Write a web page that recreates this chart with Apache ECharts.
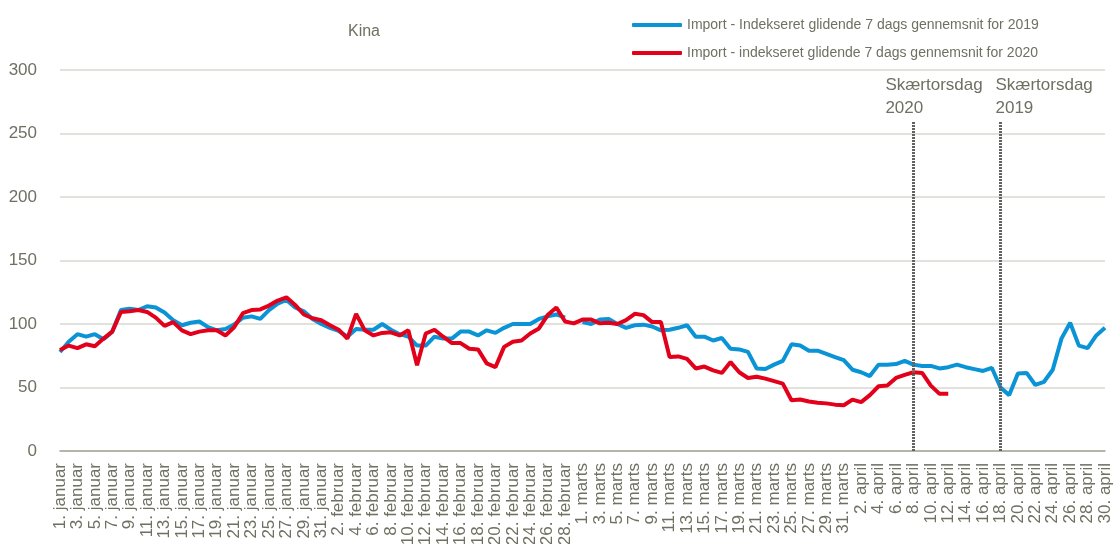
<!DOCTYPE html>
<html>
<head>
<meta charset="utf-8">
<title>Kina</title>
<script src="https://cdn.jsdelivr.net/npm/echarts@6/dist/echarts.min.js"></script>
<style>
      html,
      body {
            margin: 0;
            padding: 0;
            background: #ffffff;
      }
      #kinaChart {
            width: 1114px;
            height: 544px;
      }
</style>
</head>
<body>
<div id="kinaChart"></div>
<script>
// maaneder og antal dage (2020 er skudaar, derfor 29. februar)
const monthNames = ["januar", "februar", "marts", "april"];
const monthDays = [31, 29, 31, 30];

// 2019 - 29. februar findes ikke, derfor null
const import2019 = [
      78, 86, 92, 90, 92, 88, 94, 111, 112, 111,
      114, 113, 109, 103, 99, 101, 102, 97.5, 95, 96,
      99.5, 105, 106, 104, 111, 116, 119, 113, 110, 104,
      100, 97, 94.5, 90, 96, 95.5, 95.5, 100, 95.5, 92,
      90, 83, 83, 90, 88.5, 88.5, 94, 94, 91, 95,
      93, 97, 100, 100, 100, 104, 106, 107.5, 105, null,
      101.5, 100, 103.5, 104, 100, 97, 99, 99.5, 98, 95,
      95.5, 97, 99, 90, 90, 87, 89, 80.5, 80, 78,
      65, 64.5, 68, 71, 84, 83, 79, 79, 76.5, 74,
      71.5, 64, 62, 59, 68, 68, 68.5, 71, 68, 67,
      67, 65, 66, 68, 66, 64.5, 63, 65.5, 50, 44,
      61, 61.5, 52, 54.5, 64, 88.5, 101, 83, 81, 91,
      97,
];

// 2020 - data slutter 12. april
const import2020 = [
      79.5, 83, 81, 84, 82.5, 88.5, 94, 109.5, 110, 111,
      109.5, 105, 98.5, 101.5, 95, 92, 94, 95, 95, 91,
      97.5, 108.5, 111, 111.5, 114.5, 118.5, 121, 115, 107.5, 104.5,
      103, 99, 95.5, 88.5, 108, 95, 91, 93, 93.5, 91,
      95, 67.5, 92.5, 95.5, 90, 85, 85, 80.5, 80, 69,
      66, 82, 86, 87, 92.5, 96.5, 107, 113, 102, 100.5,
      103.5, 103.5, 100.5, 101, 100, 103, 108, 107, 101.5, 101.5,
      74, 74.5, 72.5, 65, 66.5, 63.5, 61.5, 70, 62, 57.5,
      58.5, 57, 55, 53, 40, 40.5, 39, 38, 37.5, 36.5,
      36, 40.5, 38.5, 44, 51, 51.5, 57.5, 60, 62, 61.5,
      51.5, 45, 45,
];

const seriesNames = [
      "Import - Indekseret glidende 7 dags gennemsnit for 2019",
      "Import - indekseret glidende 7 dags gennemsnit for 2020",
];

// skaertorsdag-markeringer
const easterDays = ["8. april", "18. april"];
const easterLabels = ["Skærtorsdag\n2020", "Skærtorsdag\n2019"];
const easterTop = 259;

const yTicks = { min: 0, max: 300, interval: 50 };

// kategorier: "1. januar" ... "30. april"
const days = [];
monthNames.forEach((name, m) => {
      for (let d = 1; d <= monthDays[m]; d++) {
            days.push(d + ". " + name);
      }
});

const textColor = "#6f6f62";
const fontName = '"Liberation Sans", Arial, sans-serif';

const easterOffsets = [[-28, 3], [-5, 3]];

const kinaOption = {
      animation: false,
      textStyle: {
            fontFamily: fontName,
            color: textColor,
      },
      title: {
            text: "Kina",
            left: 359,
            top: 19,
            textAlign: "center",
            textStyle: {
                  fontFamily: fontName,
                  fontSize: 16,
                  fontWeight: "normal",
                  color: textColor,
            },
      },
      legend: {
            orient: "vertical",
            left: 627,
            top: 13,
            icon: "roundRect",
            itemWidth: 50,
            itemHeight: 4,
            itemGap: 14,
            textStyle: {
                  fontFamily: fontName,
                  fontSize: 14,
                  color: textColor,
            },
            data: seriesNames,
      },
      grid: {
            left: 60,
            right: 9,
            top: 70,
            bottom: 93,
            containLabel: false,
            outerBoundsMode: "none",
      },
      xAxis: {
            type: "category",
            boundaryGap: false,
            data: days,
            axisLine: {
                  lineStyle: {
                        color: "#a6a696",
                        width: 1.5,
                  },
            },
            axisTick: { show: false },
            axisLabel: {
                  interval: 1,
                  rotate: 90,
                  margin: 12,
                  showMinLabel: true,
                  showMaxLabel: true,
                  hideOverlap: false,
                  fontFamily: fontName,
                  fontSize: 17,
                  color: textColor,
            },
            splitLine: { show: false },
      },
      yAxis: {
            type: "value",
            min: yTicks.min,
            max: yTicks.max,
            interval: yTicks.interval,
            axisLine: { show: false },
            axisTick: { show: false },
            axisLabel: {
                  margin: 23,
                  fontFamily: fontName,
                  fontSize: 17,
                  color: textColor,
            },
            splitLine: {
                  lineStyle: {
                        color: "#d9d9d2",
                        width: 1.5,
                  },
            },
      },
      series: [
            {
                  name: seriesNames[0],
                  type: "line",
                  data: import2019,
                  symbol: "none",
                  connectNulls: false,
                  lineStyle: { color: "#0a93d5", width: 4 },
                  itemStyle: { color: "#0a93d5" },
                  z: 2,
                  markLine: {
                        silent: true,
                        symbol: "none",
                        animation: false,
                        lineStyle: {
                              color: "#626262",
                              width: 3,
                              type: [2, 1],
                        },
                        data: easterDays.map((day, i) => {
                              return [
                                    {
                                          coord: [day, 0],
                                          label: {
                                                show: true,
                                                position: "end",
                                                formatter: easterLabels[i],
                                                align: "left",
                                                offset: easterOffsets[i],
                                                distance: 5,
                                                fontFamily: fontName,
                                                fontSize: 17,
                                                lineHeight: 23,
                                                color: textColor,
                                          },
                                    },
                                    { coord: [day, easterTop] },
                              ];
                        }),
                  },
            },
            {
                  name: seriesNames[1],
                  type: "line",
                  data: import2020,
                  symbol: "none",
                  lineStyle: { color: "#e2001a", width: 4 },
                  itemStyle: { color: "#e2001a" },
                  z: 3,
            },
      ],
};

const kinaChart = echarts.init(document.getElementById("kinaChart"));
kinaChart.setOption(kinaOption);
</script>
</body>
</html>
